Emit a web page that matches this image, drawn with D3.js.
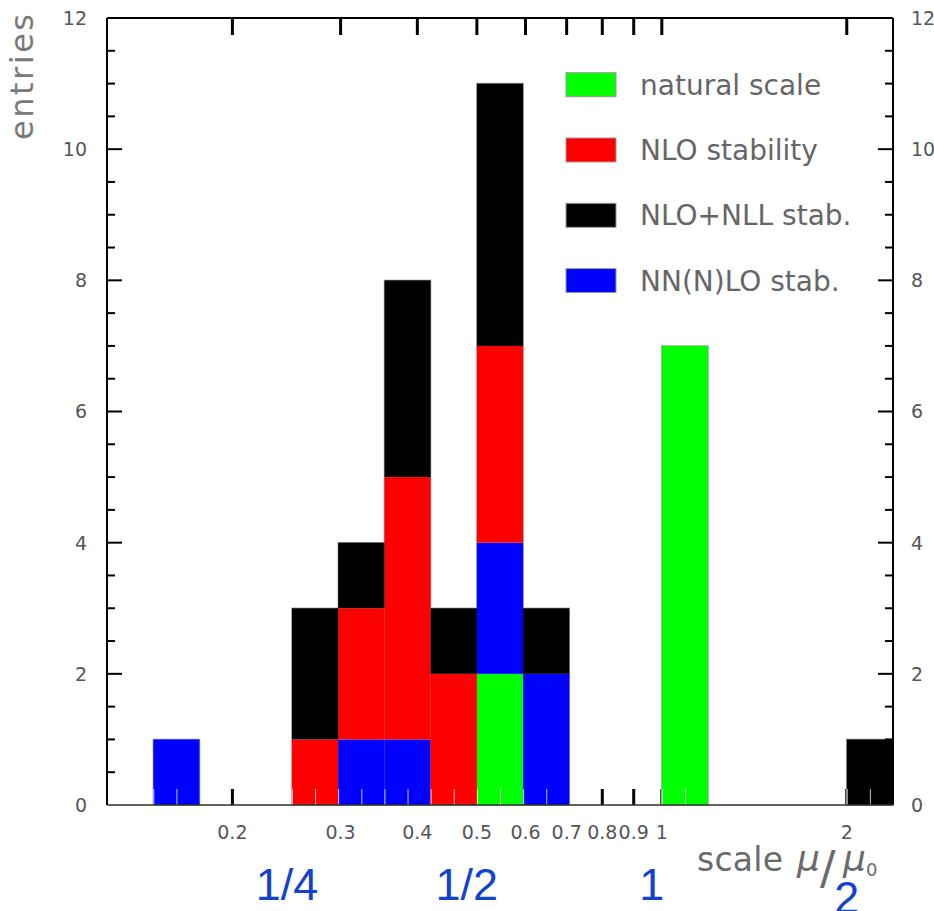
<!DOCTYPE html>
<html>
<head>
<meta charset="utf-8">
<script src="https://cdn.jsdelivr.net/npm/d3@7"></script>
<style>
  html, body { margin: 0; padding: 0; background: #fff; }
  svg { display: block; }
</style>
</head>
<body>
<div id="chart"></div>
<script>
// Histogram bins (quarter-octave bins in mu/mu0)
const binLo = [0.1487, 0.25, 0.2973, 0.3536, 0.4204, 0.5, 0.5946, 1.0, 2.0];
const binHi = [0.1768, 0.2973, 0.3536, 0.4204, 0.5, 0.5946, 0.7071, 1.1892, 2.3784];

// Entries per bin for each scale-choice method
const naturalScale = [0, 0, 0, 0, 0, 2, 0, 7, 0];
const nnloStab     = [1, 0, 1, 1, 0, 2, 2, 0, 0];
const nloStab      = [0, 1, 2, 4, 2, 3, 0, 0, 0];
const nloNllStab   = [0, 2, 1, 3, 1, 4, 1, 0, 1];

const seriesKeys   = ["natural", "nnlo", "nlo", "nlonll"];
const seriesColors = ["#00ff00", "#0000ff", "#ff0000", "#000000"];
const legendKeys   = ["natural", "nlo", "nlonll", "nnlo"];
const legendLabels = ["natural scale", "NLO stability", "NLO+NLL stab.", "NN(N)LO stab."];

const xTickValues = [0.2, 0.3, 0.4, 0.5, 0.6, 0.7, 0.8, 0.9, 1, 2];
const xTickLabels = ["0.2", "0.3", "0.4", "0.5", "0.6", "0.7", "0.8", "0.9", "1", "2"];
const yMajorTicks = [0, 2, 4, 6, 8, 10, 12];
const yMinorTicks = [0.5, 1, 1.5, 2.5, 3, 3.5, 4.5, 5, 5.5, 6.5, 7, 7.5, 8.5, 9, 9.5, 10.5, 11, 11.5];

const fractionValues = [0.25, 0.5, 1, 2];
const fractionLabels = ["1/4", "1/2", "1", "2"];

const W = 934, H = 911;
const plot = { left: 107, right: 893, top: 18, bottom: 805 };

const svg = d3.select("#chart").append("svg")
  .attr("width", W).attr("height", H)
  .attr("viewBox", `0 0 ${W} ${H}`);

const x = d3.scaleLog().domain([0.125, 2.3784]).range([plot.left, plot.right]);
const y = d3.scaleLinear().domain([0, 12]).range([plot.bottom, plot.top]);

const labelFont = "'DejaVu Sans', sans-serif";
const greyText = "#555";

// Build stacked table
const table = binLo.map((lo, i) => ({
  lo, hi: binHi[i],
  natural: naturalScale[i], nnlo: nnloStab[i], nlo: nloStab[i], nlonll: nloNllStab[i]
}));
const stacked = d3.stack().keys(seriesKeys)(table);

// Ticks along the x axis (drawn beneath the bars)
const xt = svg.append("g").attr("class", "x-ticks");
xt.selectAll("line.bottom").data(xTickValues).join("line")
  .attr("class", "bottom")
  .attr("x1", d => x(d)).attr("x2", d => x(d))
  .attr("y1", plot.bottom).attr("y2", plot.bottom - 16)
  .attr("stroke", "#000").attr("stroke-width", 3);
xt.selectAll("line.top").data(xTickValues).join("line")
  .attr("class", "top")
  .attr("x1", d => x(d)).attr("x2", d => x(d))
  .attr("y1", plot.top).attr("y2", plot.top + 17)
  .attr("stroke", "#000").attr("stroke-width", 3);

// Outline of the total bar in each bin
const bars = svg.append("g").attr("class", "bars");
const totalLayer = stacked[stacked.length - 1];
bars.selectAll("rect.outline").data(totalLayer.filter(d => d[1] > 0)).join("rect")
  .attr("class", "outline")
  .attr("x", d => x(d.data.lo)).attr("width", d => x(d.data.hi) - x(d.data.lo))
  .attr("y", d => y(d[1])).attr("height", d => y(0) - y(d[1]))
  .attr("fill", "none").attr("stroke", "#a8a8a8").attr("stroke-width", 1.4);

// Stacked segments
stacked.forEach((layer, li) => {
  bars.selectAll(`rect.s${li}`).data(layer.filter(d => d[1] > d[0])).join("rect")
    .attr("class", `s${li}`)
    .attr("x", d => x(d.data.lo)).attr("width", d => x(d.data.hi) - x(d.data.lo))
    .attr("y", d => y(d[1])).attr("height", d => y(d[0]) - y(d[1]))
    .attr("fill", seriesColors[li]);
});

// Faint white seams at the foot of each filled bin (half-bin divisions)
const seams = [];
table.forEach((b, i) => {
  if (totalLayer[i][1] > 0) {
    seams.push(b.lo);
    seams.push(Math.sqrt(b.lo * b.hi));
  }
});
bars.selectAll("line.seam").data(seams).join("line")
  .attr("class", "seam")
  .attr("x1", d => x(d) + 0.5).attr("x2", d => x(d) + 0.5)
  .attr("y1", plot.bottom - 16).attr("y2", plot.bottom)
  .attr("stroke", "#fff").attr("stroke-opacity", 0.75).attr("stroke-width", 1);

// Frame
const frame = svg.append("g").attr("class", "frame");
frame.append("line").attr("x1", plot.left).attr("x2", plot.left)
  .attr("y1", plot.top).attr("y2", plot.bottom).attr("stroke", "#000").attr("stroke-width", 2);
frame.append("line").attr("x1", plot.right).attr("x2", plot.right)
  .attr("y1", plot.top).attr("y2", plot.bottom).attr("stroke", "#000").attr("stroke-width", 2);
frame.append("line").attr("x1", plot.left).attr("x2", plot.right)
  .attr("y1", plot.top).attr("y2", plot.top).attr("stroke", "#000").attr("stroke-width", 2);
frame.append("line").attr("x1", plot.left).attr("x2", plot.right)
  .attr("y1", plot.bottom).attr("y2", plot.bottom).attr("stroke", "#2b352b").attr("stroke-width", 1.6);

// Y ticks on both sides, pointing inward
const yt = svg.append("g").attr("class", "y-ticks");
[[plot.left, 1], [plot.right, -1]].forEach(([x0, dir], si) => {
  yt.selectAll(`line.maj${si}`).data(yMajorTicks.filter(v => v > 0 && v < 12)).join("line")
    .attr("class", `maj${si}`)
    .attr("x1", x0).attr("x2", x0 + dir * 15)
    .attr("y1", d => y(d)).attr("y2", d => y(d))
    .attr("stroke", "#000").attr("stroke-width", 2);
  yt.selectAll(`line.min${si}`).data(yMinorTicks).join("line")
    .attr("class", `min${si}`)
    .attr("x1", x0).attr("x2", x0 + dir * 8)
    .attr("y1", d => y(d)).attr("y2", d => y(d))
    .attr("stroke", "#000").attr("stroke-width", 2);
});

// Y tick labels
const yl = svg.append("g").attr("class", "y-labels")
  .attr("font-family", labelFont).attr("font-size", 19).attr("fill", greyText);
yl.selectAll("text.l").data(yMajorTicks).join("text")
  .attr("class", "l")
  .attr("x", 87).attr("y", d => y(d)).attr("dy", "0.36em")
  .attr("text-anchor", "end").text(d => d);
yl.selectAll("text.r").data(yMajorTicks).join("text")
  .attr("class", "r")
  .attr("x", 911).attr("y", d => y(d)).attr("dy", "0.36em")
  .attr("text-anchor", "start").text(d => d);

// X tick labels
svg.append("g").attr("class", "x-labels")
  .attr("font-family", labelFont).attr("font-size", 19).attr("fill", greyText)
  .selectAll("text").data(xTickValues).join("text")
  .attr("x", d => x(d)).attr("y", 839)
  .attr("text-anchor", "middle")
  .text((d, i) => xTickLabels[i]);

// Axis titles
svg.append("text")
  .attr("transform", "translate(33,14) rotate(-90)")
  .attr("text-anchor", "end")
  .attr("font-family", labelFont).attr("font-size", 32)
  .attr("textLength", 126).attr("lengthAdjust", "spacing")
  .attr("fill", "#7a7a7a")
  .text("entries");

const xTitle = svg.append("g").attr("class", "x-title")
  .attr("font-family", labelFont).attr("fill", "#6a6a6a");
xTitle.append("text").attr("x", 697).attr("y", 871)
  .attr("font-size", 33).attr("textLength", 86).text("scale");
xTitle.append("text").attr("x", 797).attr("y", 871)
  .attr("font-size", 36).attr("font-style", "italic").text("μ");
xTitle.append("text").attr("x", 820).attr("y", 884)
  .attr("font-size", 46).text("/");
xTitle.append("text").attr("x", 843).attr("y", 871)
  .attr("font-size", 36).attr("font-style", "italic").text("μ");
xTitle.append("text").attr("x", 866).attr("y", 876)
  .attr("font-size", 18).text("0");

// Legend
const lg = svg.append("g").attr("class", "legend");
const lrow = lg.selectAll("g").data(legendKeys).join("g")
  .attr("transform", (d, i) => `translate(566, ${72.7 + i * 65.3})`);
lrow.append("rect")
  .attr("width", 50).attr("height", 24)
  .attr("fill", d => seriesColors[seriesKeys.indexOf(d)])
  .attr("stroke", "#999").attr("stroke-width", 1);
lrow.append("text")
  .attr("x", 74).attr("y", 22)
  .attr("font-family", labelFont).attr("font-size", 28)
  .attr("fill", "#666")
  .text((d, i) => legendLabels[i]);

// Fraction annotations below the axis
const fracOffsets = [[-5, 900], [-10, 900], [-10, 900], [0, 913]];
svg.append("g").attr("class", "fractions")
  .attr("font-family", "'Liberation Sans', Arial, sans-serif").attr("font-size", 45)
  .attr("fill", "#1442cc")
  .selectAll("text").data(fractionValues).join("text")
  .attr("x", (d, i) => x(d) + fracOffsets[i][0])
  .attr("y", (d, i) => fracOffsets[i][1])
  .attr("text-anchor", "middle")
  .text((d, i) => fractionLabels[i]);
</script>
</body>
</html>
